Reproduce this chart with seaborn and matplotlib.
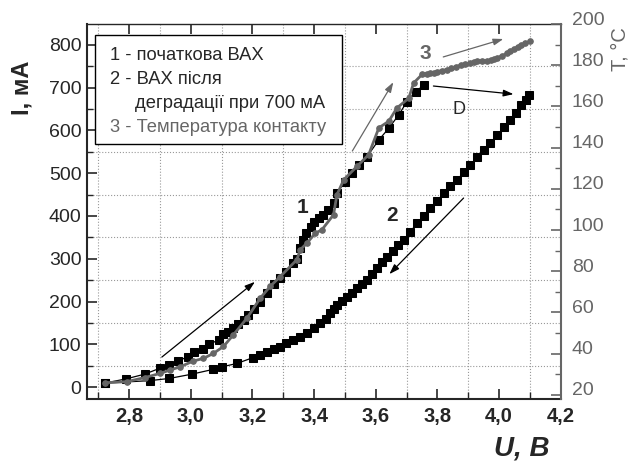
import matplotlib
matplotlib.use('Agg')
import matplotlib.pyplot as plt
import matplotlib.transforms as mtransforms
import seaborn as sns
from matplotlib.ticker import MultipleLocator, FuncFormatter, NullFormatter
from matplotlib.patches import Rectangle

# --- data ---
# 1 - initial I-V curve
u1 = [2.72, 2.79, 2.85, 2.90, 2.93, 2.96, 2.99, 3.01, 3.04, 3.06, 3.09, 3.106, 3.122,
      3.138, 3.154, 3.171, 3.187, 3.205, 3.225, 3.247, 3.27, 3.29, 3.31, 3.33, 3.345,
      3.355, 3.365, 3.375, 3.39, 3.40, 3.415, 3.43, 3.445, 3.463, 3.474, 3.50, 3.523,
      3.545, 3.572, 3.61, 3.642, 3.674, 3.701, 3.729, 3.756]
i1 = [9, 19, 30, 44, 51, 61, 71, 81, 90, 100, 110, 123, 129,
      137, 147, 157, 168, 182, 200, 219, 240, 255, 270, 290, 300,
      325, 345, 360, 375, 385, 395, 402, 415, 430, 453, 480, 500,
      519, 539, 578, 605, 636, 667, 691, 706]

# 2 - I-V curve after degradation at 700 mA
u2 = [2.721, 2.868, 2.93, 3.003, 3.071, 3.10, 3.149, 3.203, 3.225, 3.247, 3.27, 3.29,
      3.31, 3.333, 3.355, 3.377, 3.40, 3.42, 3.437, 3.452, 3.463, 3.474, 3.49, 3.507,
      3.523, 3.539, 3.555, 3.572, 3.588, 3.604, 3.62, 3.637, 3.655, 3.673, 3.691, 3.712,
      3.734, 3.755, 3.777, 3.80, 3.82, 3.842, 3.864, 3.885, 3.907, 3.93, 3.951, 3.972,
      3.994, 4.015, 4.037, 4.055, 4.07, 4.086, 4.097]
i2 = [9, 15, 20, 30, 41, 47, 55, 69, 76, 83, 89, 94,
      102, 110, 118, 126, 137, 149, 160, 172, 182, 192, 201, 211,
      221, 231, 240, 250, 264, 278, 292, 305, 318, 331, 344, 363,
      383, 400, 418, 436, 453, 469, 484, 502, 519, 537, 554, 571,
      589, 607, 625, 642, 660, 672, 683]

# 3 - contact temperature, deg C
u3 = [2.721, 2.792, 2.851, 2.90, 2.932, 2.965, 3.008, 3.041, 3.073, 3.106, 3.138, 3.182,
      3.225, 3.257, 3.29, 3.344, 3.355, 3.377, 3.404, 3.425, 3.463, 3.474, 3.496, 3.539,
      3.577, 3.61, 3.642, 3.669, 3.707, 3.723, 3.75, 3.765, 3.775, 3.788, 3.80, 3.815,
      3.831, 3.845, 3.86, 3.875, 3.89, 3.905, 3.918, 3.93, 3.945, 3.962, 3.975, 3.985,
      3.994, 4.01, 4.025, 4.037, 4.05, 4.06, 4.07, 4.085, 4.102]
t3 = [25.9, 26.4, 28.4, 30.4, 32.0, 33.6, 36.4, 37.7, 40.1, 43.5, 49.1, 57.2,
      66.9, 72.6, 77.4, 85.6, 90.4, 93.7, 98.5, 100.1, 107.4, 117.1, 124.4, 130.9,
      136.6, 149.6, 152.8, 159.3, 164.0, 171.4, 175.5, 175.9, 176.1, 176.3, 176.9, 177.4,
      177.9, 178.6, 179.3, 180.0, 180.6, 181.1, 181.6, 181.9, 182.1, 182.2, 182.6, 183.1,
      183.6, 184.6, 185.7, 186.7, 188.0, 188.9, 189.7, 190.7, 191.7]

t_ticks = list(range(20, 201, 20))
legend_lines = ['1 - початкова ВАХ', '2 - ВАХ після', 'деградації при 700 мА',
                '3 - Температура контакту']

GRAY = '#666666'

sns.set_style('ticks')
plt.rcParams['font.family'] = ['Liberation Sans', 'DejaVu Sans']

fig = plt.figure(figsize=(6.3, 4.62), dpi=100)
ax = fig.add_axes([0.138, 0.1364, 0.752, 0.8116])
ax2 = ax.twinx()

sns.lineplot(x=u1, y=i1, ax=ax, sort=False, estimator=None, color='black',
             linewidth=0.9, marker='s', markersize=5.2, markeredgecolor='black')
sns.lineplot(x=u2, y=i2, ax=ax, sort=False, estimator=None, color='black',
             linewidth=0.9, marker='s', markersize=5.2, markeredgecolor='black')
sns.lineplot(x=u3, y=t3, ax=ax2, sort=False, estimator=None, color=GRAY,
             linewidth=2.0, marker='o', markersize=4, markeredgecolor=GRAY)

ax.set_xlim(2.663, 4.2)
ax.set_ylim(-28, 849)
ax2.set_ylim(18, 200)
ax.set_xlabel('')
ax.set_ylabel('')
ax2.set_ylabel('')

ax.xaxis.set_major_locator(MultipleLocator(0.2))
ax.xaxis.set_minor_locator(MultipleLocator(0.1))
ax.xaxis.set_major_formatter(FuncFormatter(lambda v, p: f'{v:.1f}'.replace('.', ',')))
ax.yaxis.set_major_locator(MultipleLocator(100))
ax.yaxis.set_minor_locator(MultipleLocator(50))
ax2.yaxis.set_major_locator(MultipleLocator(20))
ax2.yaxis.set_minor_locator(MultipleLocator(10))
ax2.yaxis.set_major_formatter(NullFormatter())

ax.grid(True, which='minor', linestyle=':', color='#999999', linewidth=0.8)
ax.grid(False, which='major')
ax.set_axisbelow(True)

ax.tick_params(axis='x', which='major', direction='in', length=7, width=1.2,
               top=True, labelsize=14.5, pad=6)
ax.tick_params(axis='x', which='minor', direction='in', length=5, width=1, top=False)
ax.tick_params(axis='y', which='major', direction='in', length=7, width=1.2,
               labelsize=14, pad=4)
ax.tick_params(axis='y', which='minor', direction='in', length=4, width=1)
for lab in ax.get_xticklabels():
    lab.set_fontweight('bold')

ax2.tick_params(axis='y', which='major', direction='in', length=7, width=1.2,
                colors=GRAY)
ax2.tick_params(axis='y', which='minor', direction='in', length=4, width=1, colors=GRAY)

# right tick labels sit a little above their ticks in the reference
rtrans = mtransforms.offset_copy(
    mtransforms.blended_transform_factory(ax2.transAxes, ax2.transData),
    fig=fig, x=11, y=4, units='dots')
for v in t_ticks:
    ax2.text(1.0, v, str(v), transform=rtrans, fontsize=14, color=GRAY,
             ha='left', va='center', clip_on=False)

for s in ['left', 'bottom']:
    ax.spines[s].set_linewidth(1.5)
ax.spines['top'].set_linewidth(1.0)
ax.spines['right'].set_visible(False)
for s in ['left', 'bottom', 'top']:
    ax2.spines[s].set_visible(False)
ax2.spines['right'].set_color(GRAY)
ax2.spines['right'].set_linewidth(1.5)

# legend box drawn as text
ax.add_patch(Rectangle((0.017, 0.68), 0.521, 0.291, transform=ax.transAxes,
                       facecolor='white', edgecolor='black', linewidth=1.0, zorder=5))
ax.text(0.0485, 0.917, legend_lines[0], transform=ax.transAxes, fontsize=13.2,
        va='center', zorder=6)
ax.text(0.0485, 0.851, legend_lines[1], transform=ax.transAxes, fontsize=13.2,
        va='center', zorder=6)
ax.text(0.101, 0.787, legend_lines[2], transform=ax.transAxes, fontsize=13.2,
        va='center', zorder=6)
ax.text(0.0485, 0.723, legend_lines[3], transform=ax.transAxes, fontsize=13.2,
        va='center', color=GRAY, zorder=6)

# curve labels
ax.text(3.361, 420, '1', fontsize=15, fontweight='bold', ha='center', va='center')
ax.text(3.653, 402, '2', fontsize=15, fontweight='bold', ha='center', va='center')
ax.text(3.761, 781, '3', fontsize=15, fontweight='bold', ha='center', va='center',
        color=GRAY)
ax.text(3.870, 650, 'D', fontsize=13, ha='center', va='center')

def arrow(x0, y0, x1, y1, color='black'):
    ax.annotate('', xy=(x1, y1), xytext=(x0, y0),
                arrowprops=dict(arrowstyle='-|>,head_length=0.6,head_width=0.2',
                                color=color, linewidth=0.9, shrinkA=0, shrinkB=0))

arrow(2.906, 70, 3.208, 246)
arrow(3.524, 552, 3.657, 713, GRAY)
arrow(3.819, 772, 4.014, 814, GRAY)
arrow(3.787, 704, 4.047, 685)
arrow(3.885, 442, 3.644, 264)

# axis titles
fig.text(22 / 630, 1 - 88 / 462, 'I, мА', rotation=90, fontsize=17,
         fontweight='bold', ha='center', va='center')
fig.text(522 / 630, 1 - 448 / 462, 'U, В', fontsize=20, fontweight='bold',
         fontstyle='italic', ha='center', va='center')
fig.text(620 / 630, 1 - 49 / 462, 'T, °C', rotation=90, fontsize=14.5,
         color=GRAY, ha='center', va='center')

fig.savefig('out.png', dpi=100)
